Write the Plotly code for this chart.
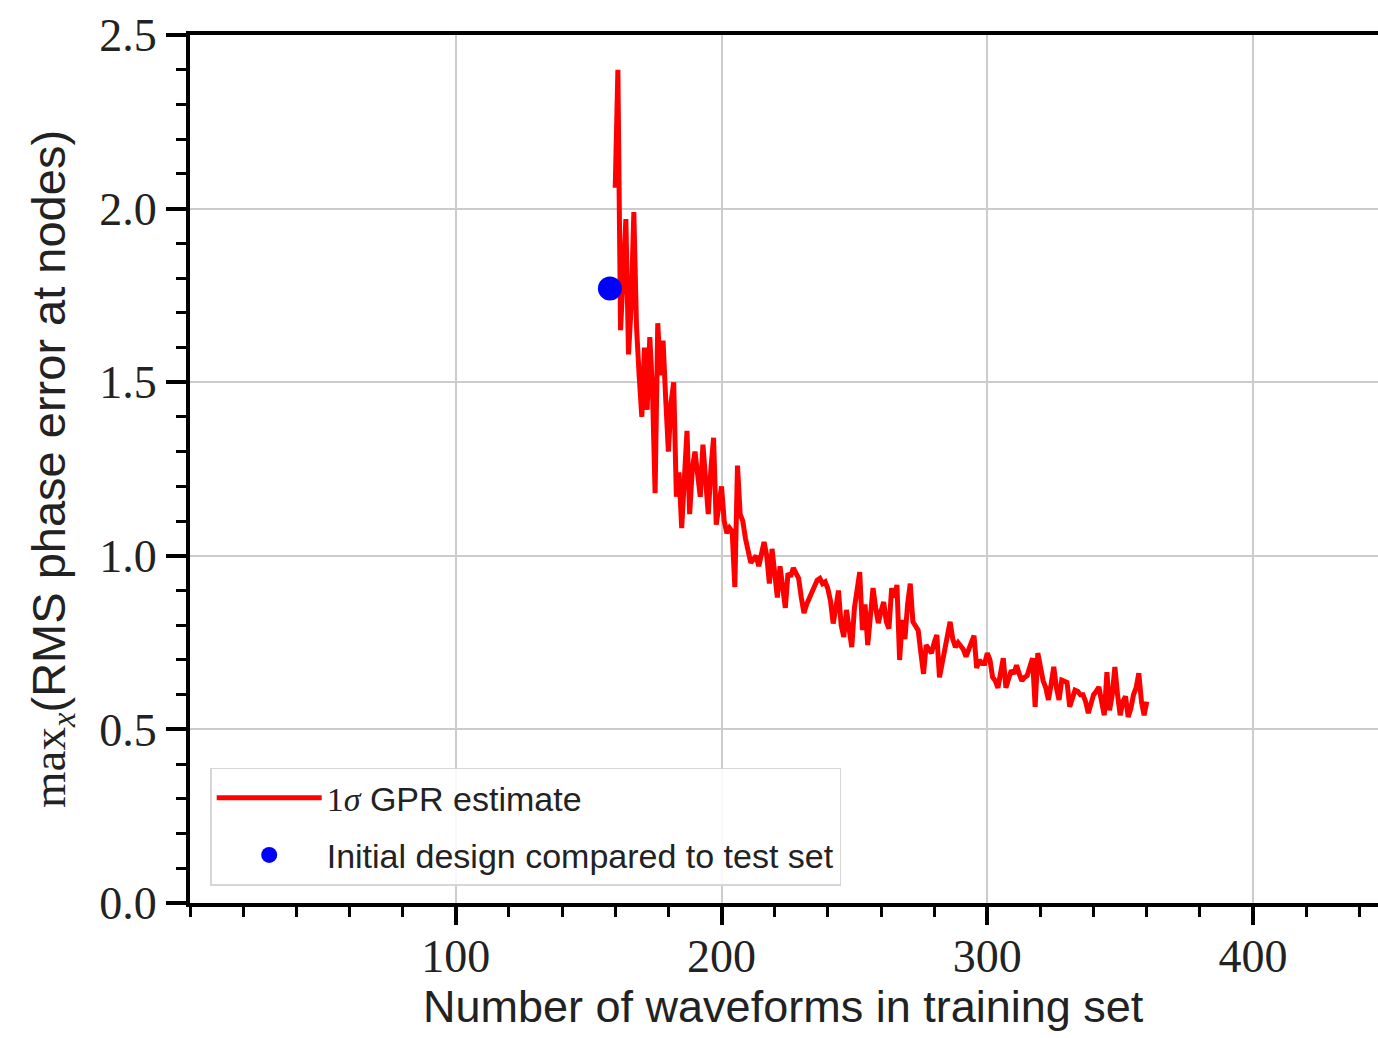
import plotly.graph_objects as go

# Number of waveforms in training set (GPR curve)
n_waveforms = list(range(160, 361))
# 1-sigma GPR estimate (max over x of RMS phase error at nodes)
gpr_sigma = [
    2.06, 2.40, 1.65, 1.80, 1.97, 1.58, 1.72, 1.99, 1.66, 1.52,
    1.40, 1.60, 1.42, 1.63, 1.48, 1.18, 1.67, 1.52, 1.62, 1.45,
    1.30, 1.44, 1.50, 1.17, 1.24, 1.08, 1.20, 1.36, 1.12, 1.25,
    1.30, 1.22, 1.17, 1.32, 1.20, 1.12, 1.25, 1.34, 1.09, 1.15,
    1.20, 1.10, 1.065, 1.08, 1.07, 0.91, 1.26, 1.12, 1.10, 1.05,
    1.02, 0.98, 0.99, 1.00, 0.97, 1.01, 1.04, 1.00, 0.92, 1.02,
    0.96, 0.88, 0.97, 0.90, 0.85, 0.95, 0.94, 0.965, 0.95, 0.935,
    0.88, 0.835, 0.86, 0.88, 0.90, 0.915, 0.93, 0.935, 0.92, 0.925,
    0.905, 0.87, 0.805, 0.85, 0.90, 0.80, 0.766, 0.844, 0.79, 0.737,
    0.85, 0.90, 0.953, 0.786, 0.86, 0.743, 0.82, 0.907, 0.85, 0.806,
    0.84, 0.867, 0.81, 0.79, 0.907, 0.88, 0.916, 0.70, 0.815, 0.76,
    0.86, 0.92, 0.81, 0.795, 0.785, 0.72, 0.66, 0.743, 0.73, 0.72,
    0.75, 0.772, 0.65, 0.69, 0.72, 0.76, 0.81, 0.76, 0.737, 0.75,
    0.74, 0.73, 0.71, 0.73, 0.755, 0.77, 0.677, 0.70, 0.69, 0.69,
    0.72, 0.70, 0.65, 0.64, 0.62, 0.66, 0.705, 0.62, 0.65, 0.67,
    0.66, 0.685, 0.66, 0.64, 0.65, 0.655, 0.68, 0.705, 0.565, 0.72,
    0.68, 0.64, 0.62, 0.585, 0.63, 0.68, 0.62, 0.585, 0.642, 0.64,
    0.635, 0.565, 0.59, 0.613, 0.61, 0.60, 0.60, 0.58, 0.547, 0.57,
    0.60, 0.61, 0.622, 0.58, 0.541, 0.665, 0.555, 0.60, 0.68, 0.60,
    0.541, 0.58, 0.595, 0.536, 0.56, 0.60, 0.62, 0.662, 0.58, 0.541,
    0.58,
]
# Initial design compared to test set
init_n = [158]
init_err = [1.77]

x_ticks = [100, 200, 300, 400]
y_ticks = [0.0, 0.5, 1.0, 1.5, 2.0, 2.5]

SERIF = "Liberation Serif, DejaVu Serif, serif"
SANS = "Liberation Sans, DejaVu Sans, sans-serif"

fig = go.Figure()
fig.add_trace(go.Scatter(
    x=n_waveforms, y=gpr_sigma, mode="lines",
    line=dict(color="#ff0000", width=5),
    name="<span style='font-family:Liberation Serif'>1<i>σ</i></span> GPR estimate",
    legendgroup="a",
))
fig.add_trace(go.Scatter(
    x=init_n, y=init_err, mode="markers",
    marker=dict(color="#0000ff", size=24),
    name="Initial design compared to test set",
    legendgroup="b",
))

fig.update_layout(
    width=1378, height=1038,
    margin=dict(l=190, r=0, t=35, b=135),
    paper_bgcolor="white", plot_bgcolor="white",
    showlegend=True,
    legend=dict(
        x=0.017, y=0.02, xanchor="left", yanchor="bottom",
        bgcolor="rgba(255,255,255,0.85)", bordercolor="#d6d6d6", borderwidth=1.5,
        font=dict(family=SANS, size=34, color="#222222"),
        tracegroupgap=10, itemwidth=105,
    ),
    xaxis=dict(
        range=[0, 447], tickvals=x_ticks, ticktext=[str(v) for v in x_ticks],
        showgrid=True, gridcolor="#cccccc", gridwidth=2,
        showline=True, linecolor="black", linewidth=4, mirror=True,
        ticks="outside", ticklen=18, tickwidth=4, tickcolor="black",
        tickfont=dict(family=SERIF, size=46, color="#222222"),
        ticklabelstandoff=-8,
        minor=dict(dtick=20, tick0=0, ticks="outside", ticklen=10, tickwidth=3,
                   tickcolor="black", showgrid=False),
        zeroline=False,
    ),
    yaxis=dict(
        range=[0, 2.5], tickvals=y_ticks, tickformat=".1f",
        showgrid=True, gridcolor="#cccccc", gridwidth=2,
        showline=True, linecolor="black", linewidth=4, mirror=False,
        ticks="outside", ticklen=20, tickwidth=4, tickcolor="black",
        tickfont=dict(family=SERIF, size=46, color="#222222"),
        minor=dict(dtick=0.1, tick0=0, ticks="outside", ticklen=10, tickwidth=3,
                   tickcolor="black", showgrid=False),
        zeroline=False,
    ),
    annotations=[
        dict(text="Number of waveforms in training set", xref="paper", yref="paper",
             x=(783 - 190) / 1188, y=-104 / 868, xanchor="center", yanchor="middle",
             showarrow=False, font=dict(family=SANS, size=45, color="#222222")),
        dict(text="<span style='font-family:Liberation Serif'>max<sub><i>x</i></sub></span>(RMS phase error at nodes)",
             xref="paper", yref="paper",
             x=-(190 - 52) / 1188, y=0.5, xanchor="center", yanchor="middle",
             textangle=-90, showarrow=False,
             font=dict(family=SANS, size=47, color="#222222")),
    ],
)

fig.write_html("out.html")
